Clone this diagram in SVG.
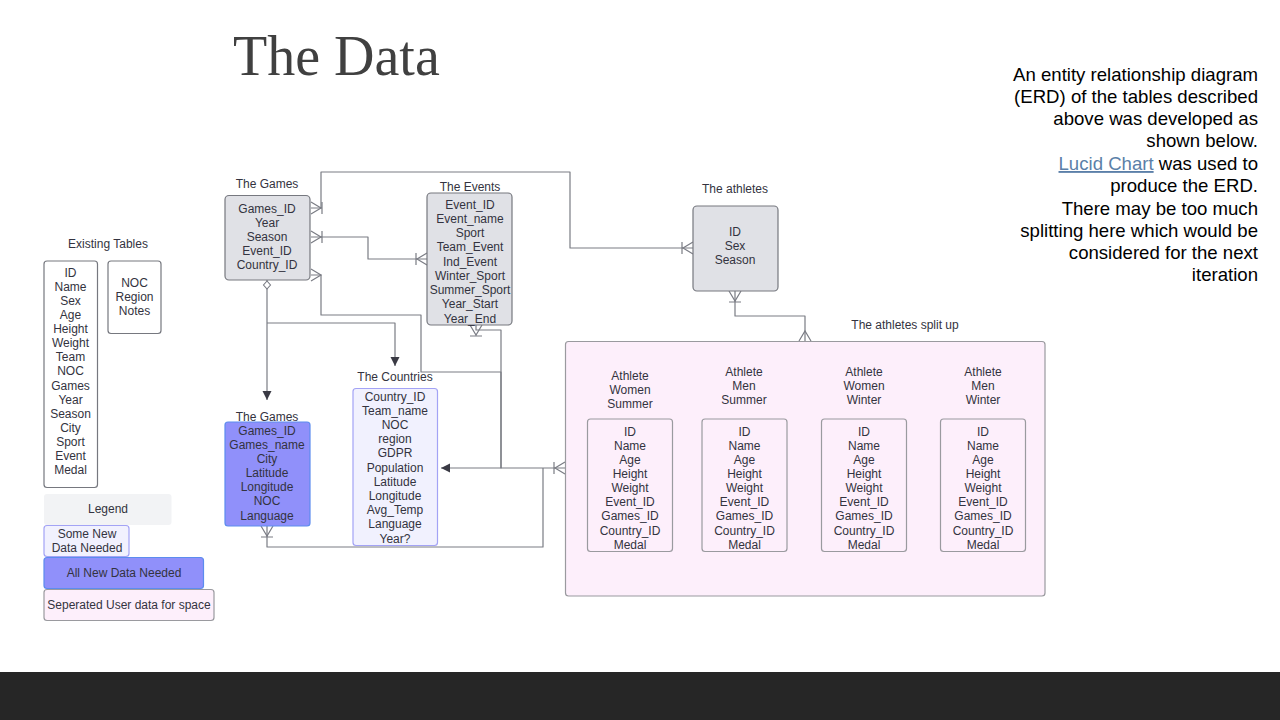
<svg xmlns="http://www.w3.org/2000/svg" width="1280" height="720" viewBox="0 0 1280 720">
<style>
.t{font-family:"Liberation Sans",Arial,sans-serif;font-size:12px;fill:#333340;text-anchor:middle}
.gray{fill:#e0e1e6;stroke:#76787f;stroke-width:1.2}
.plain{fill:#ffffff;stroke:#76787f;stroke-width:1.2}
.some{fill:#f1f1fe;stroke:#a3a3f5;stroke-width:1.2}
.all{fill:#9090fa;stroke:#5c8cee;stroke-width:1.2}
.pink{fill:#fdeffb;stroke:#9a9a9f;stroke-width:1.2}
.c{fill:none;stroke:#7a7c84;stroke-width:1.2;stroke-linejoin:round}
.mk{fill:none;stroke:#7a7c84;stroke-width:1.2}
.rt{font-family:"Liberation Sans",Arial,sans-serif;font-size:18.6px;fill:#000;text-anchor:end}
</style>
<defs>
<marker id="manyBar" markerUnits="userSpaceOnUse" markerWidth="30" markerHeight="30" refX="0" refY="0" orient="auto-start-reverse" overflow="visible">
<path class="mk" d="M0,-6 L-10,0 L0,6 M-11,-6 V6"/>
</marker>
<marker id="many" markerUnits="userSpaceOnUse" markerWidth="30" markerHeight="30" refX="0" refY="0" orient="auto-start-reverse" overflow="visible">
<path class="mk" d="M0,-6 L-10,0 L0,6"/>
</marker>
<marker id="arrow" markerUnits="userSpaceOnUse" markerWidth="20" markerHeight="20" refX="0" refY="0" orient="auto" overflow="visible">
<path d="M0,0 L-9,-4.5 L-9,4.5 Z" fill="#3a3a44"/>
</marker>
<marker id="diamond" markerUnits="userSpaceOnUse" markerWidth="20" markerHeight="20" refX="0" refY="0" orient="auto-start-reverse" overflow="visible">
<path d="M-1,0 L-5,-3.5 L-9,0 L-5,3.5 Z" fill="#ffffff" stroke="#7a7c84" stroke-width="1.1"/>
</marker>
</defs>
<rect width="1280" height="720" fill="#ffffff"/>
<rect x="0" y="672" width="1280" height="48" fill="#262626"/>
<text x="233" y="75" font-family="'Liberation Serif','Times New Roman',serif" font-size="56" fill="#404040">The Data</text>
<g id="description">
<text class="rt" x="1258" y="81">An entity relationship diagram</text>
<text class="rt" x="1258" y="103">(ERD) of the tables described</text>
<text class="rt" x="1258" y="125">above was developed as</text>
<text class="rt" x="1258" y="147">shown below.</text>
<text class="rt" x="1258" y="170"><tspan fill="#5b7fa8" text-decoration="underline">Lucid Chart</tspan> was used to</text>
<text class="rt" x="1258" y="192">produce the ERD.</text>
<text class="rt" x="1258" y="215">There may be too much</text>
<text class="rt" x="1258" y="237">splitting here which would be</text>
<text class="rt" x="1258" y="259">considered for the next</text>
<text class="rt" x="1258" y="281">iteration</text>
</g>
<g id="connectors">
<path class="c" d="M311,208 H321 V172 H570 V248 H693" marker-start="url(#manyBar)" marker-end="url(#manyBar)"/>
<path class="c" d="M311,237 H368 V259 H427" marker-start="url(#manyBar)" marker-end="url(#manyBar)"/>
<path class="c" d="M311,275 H321 V315 H421 V372 H501 V468 H565" marker-start="url(#many)" marker-end="url(#manyBar)"/>
<path class="c" d="M476,325 V330 H501 V468 H441" marker-start="url(#manyBar)" marker-end="url(#arrow)"/>
<path class="c" d="M267,526 V547 H543 V468"  marker-start="url(#manyBar)"/>
<path class="c" d="M267,280 V400" marker-start="url(#diamond)" marker-end="url(#arrow)"/>
<path class="c" d="M267,323 H395 V366" marker-end="url(#arrow)"/>
<path class="c" d="M735,291 V316 H805 V341" marker-start="url(#manyBar)" marker-end="url(#many)"/>
</g>
<g id="games">
<text class="t" x="267" y="187.5">The Games</text>
<rect class="gray" x="225" y="195.5" width="85" height="84.5" rx="4"/>
<text class="t" x="267" y="212.5">Games_ID<tspan x="267" dy="14.2">Year</tspan><tspan x="267" dy="14.2">Season</tspan><tspan x="267" dy="14.2">Event_ID</tspan><tspan x="267" dy="14.2">Country_ID</tspan></text>
</g>
<g id="events">
<text class="t" x="470" y="190.5">The Events</text>
<rect class="gray" x="427" y="193" width="85" height="132" rx="4"/>
<text class="t" x="470" y="208.5">Event_ID<tspan x="470" dy="14.25">Event_name</tspan><tspan x="470" dy="14.25">Sport</tspan><tspan x="470" dy="14.25">Team_Event</tspan><tspan x="470" dy="14.25">Ind_Event</tspan><tspan x="470" dy="14.25">Winter_Sport</tspan><tspan x="470" dy="14.25">Summer_Sport</tspan><tspan x="470" dy="14.25">Year_Start</tspan><tspan x="470" dy="14.25">Year_End</tspan></text>
</g>
<g id="athletes">
<text class="t" x="735" y="192.5">The athletes</text>
<rect class="gray" x="693" y="206" width="85" height="85" rx="4"/>
<text class="t" x="735" y="235.5">ID<tspan x="735" dy="14.2">Sex</tspan><tspan x="735" dy="14.2">Season</tspan></text>
</g>
<g id="countries">
<text class="t" x="395" y="380.5">The Countries</text>
<rect class="some" x="353" y="388.5" width="84.5" height="157" rx="3"/>
<text class="t" x="395" y="400.5">Country_ID<tspan x="395" dy="14.2">Team_name</tspan><tspan x="395" dy="14.2">NOC</tspan><tspan x="395" dy="14.2">region</tspan><tspan x="395" dy="14.2">GDPR</tspan><tspan x="395" dy="14.2">Population</tspan><tspan x="395" dy="14.2">Latitude</tspan><tspan x="395" dy="14.2">Longitude</tspan><tspan x="395" dy="14.2">Avg_Temp</tspan><tspan x="395" dy="14.2">Language</tspan><tspan x="395" dy="14.2">Year?</tspan></text>
</g>
<g id="games-new">
<text class="t" x="267" y="420.5">The Games</text>
<rect class="all" x="225" y="422" width="85" height="104" rx="3"/>
<text class="t" x="267" y="434.5">Games_ID<tspan x="267" dy="14.17">Games_name</tspan><tspan x="267" dy="14.17">City</tspan><tspan x="267" dy="14.17">Latitude</tspan><tspan x="267" dy="14.17">Longitude</tspan><tspan x="267" dy="14.17">NOC</tspan><tspan x="267" dy="14.17">Language</tspan></text>
</g>
<g id="existing-tables">
<text class="t" x="108" y="247.5">Existing Tables</text>
<rect class="plain" x="44" y="261" width="53.5" height="226.5" rx="3"/>
<text class="t" x="70.5" y="276.5">ID<tspan x="70.5" dy="14.14">Name</tspan><tspan x="70.5" dy="14.14">Sex</tspan><tspan x="70.5" dy="14.14">Age</tspan><tspan x="70.5" dy="14.14">Height</tspan><tspan x="70.5" dy="14.14">Weight</tspan><tspan x="70.5" dy="14.14">Team</tspan><tspan x="70.5" dy="14.14">NOC</tspan><tspan x="70.5" dy="14.14">Games</tspan><tspan x="70.5" dy="14.14">Year</tspan><tspan x="70.5" dy="14.14">Season</tspan><tspan x="70.5" dy="14.14">City</tspan><tspan x="70.5" dy="14.14">Sport</tspan><tspan x="70.5" dy="14.14">Event</tspan><tspan x="70.5" dy="14.14">Medal</tspan></text>
<rect class="plain" x="108" y="261" width="53" height="72.5" rx="3"/>
<text class="t" x="134.5" y="286.5">NOC<tspan x="134.5" dy="14.14">Region</tspan><tspan x="134.5" dy="14.14">Notes</tspan></text>
</g>
<g id="legend">
<rect x="44" y="494" width="127.5" height="31" rx="3" fill="#f2f3f5"/>
<text class="t" x="108" y="512.5">Legend</text>
<rect class="some" x="44" y="525.5" width="85" height="31" rx="3"/>
<text class="t" x="87" y="537.5">Some New<tspan x="87" dy="14">Data Needed</tspan></text>
<rect class="all" x="44" y="557.5" width="159.5" height="31" rx="3"/>
<text class="t" x="124" y="576.5">All New Data Needed</text>
<rect class="pink" x="44" y="589.5" width="170" height="31" rx="3"/>
<text class="t" x="129" y="608.5">Seperated User data for space</text>
</g>
<g id="athletes-split">
<text class="t" x="905" y="328.5">The athletes split up</text>
<rect class="pink" x="565.5" y="341.5" width="479.5" height="254.5" rx="3"/>
<g id="athlete-women-summer">
<text class="t" x="630" y="379.5">Athlete<tspan x="630" dy="14">Women</tspan><tspan x="630" dy="14">Summer</tspan></text>
<rect class="pink" x="587.5" y="419" width="85" height="132.5" rx="3"/>
<text class="t" x="630" y="435.5">ID<tspan x="630" dy="14.15">Name</tspan><tspan x="630" dy="14.15">Age</tspan><tspan x="630" dy="14.15">Height</tspan><tspan x="630" dy="14.15">Weight</tspan><tspan x="630" dy="14.15">Event_ID</tspan><tspan x="630" dy="14.15">Games_ID</tspan><tspan x="630" dy="14.15">Country_ID</tspan><tspan x="630" dy="14.15">Medal</tspan></text>
</g>
<g id="athlete-men-summer">
<text class="t" x="744" y="375.5">Athlete<tspan x="744" dy="14">Men</tspan><tspan x="744" dy="14">Summer</tspan></text>
<rect class="pink" x="702" y="419" width="85" height="132.5" rx="3"/>
<text class="t" x="744.5" y="435.5">ID<tspan x="744.5" dy="14.15">Name</tspan><tspan x="744.5" dy="14.15">Age</tspan><tspan x="744.5" dy="14.15">Height</tspan><tspan x="744.5" dy="14.15">Weight</tspan><tspan x="744.5" dy="14.15">Event_ID</tspan><tspan x="744.5" dy="14.15">Games_ID</tspan><tspan x="744.5" dy="14.15">Country_ID</tspan><tspan x="744.5" dy="14.15">Medal</tspan></text>
</g>
<g id="athlete-women-winter">
<text class="t" x="864" y="375.5">Athlete<tspan x="864" dy="14">Women</tspan><tspan x="864" dy="14">Winter</tspan></text>
<rect class="pink" x="821.5" y="419" width="85" height="132.5" rx="3"/>
<text class="t" x="864" y="435.5">ID<tspan x="864" dy="14.15">Name</tspan><tspan x="864" dy="14.15">Age</tspan><tspan x="864" dy="14.15">Height</tspan><tspan x="864" dy="14.15">Weight</tspan><tspan x="864" dy="14.15">Event_ID</tspan><tspan x="864" dy="14.15">Games_ID</tspan><tspan x="864" dy="14.15">Country_ID</tspan><tspan x="864" dy="14.15">Medal</tspan></text>
</g>
<g id="athlete-men-winter">
<text class="t" x="983" y="375.5">Athlete<tspan x="983" dy="14">Men</tspan><tspan x="983" dy="14">Winter</tspan></text>
<rect class="pink" x="940.5" y="419" width="85" height="132.5" rx="3"/>
<text class="t" x="983" y="435.5">ID<tspan x="983" dy="14.15">Name</tspan><tspan x="983" dy="14.15">Age</tspan><tspan x="983" dy="14.15">Height</tspan><tspan x="983" dy="14.15">Weight</tspan><tspan x="983" dy="14.15">Event_ID</tspan><tspan x="983" dy="14.15">Games_ID</tspan><tspan x="983" dy="14.15">Country_ID</tspan><tspan x="983" dy="14.15">Medal</tspan></text>
</g>
</g>
</svg>
